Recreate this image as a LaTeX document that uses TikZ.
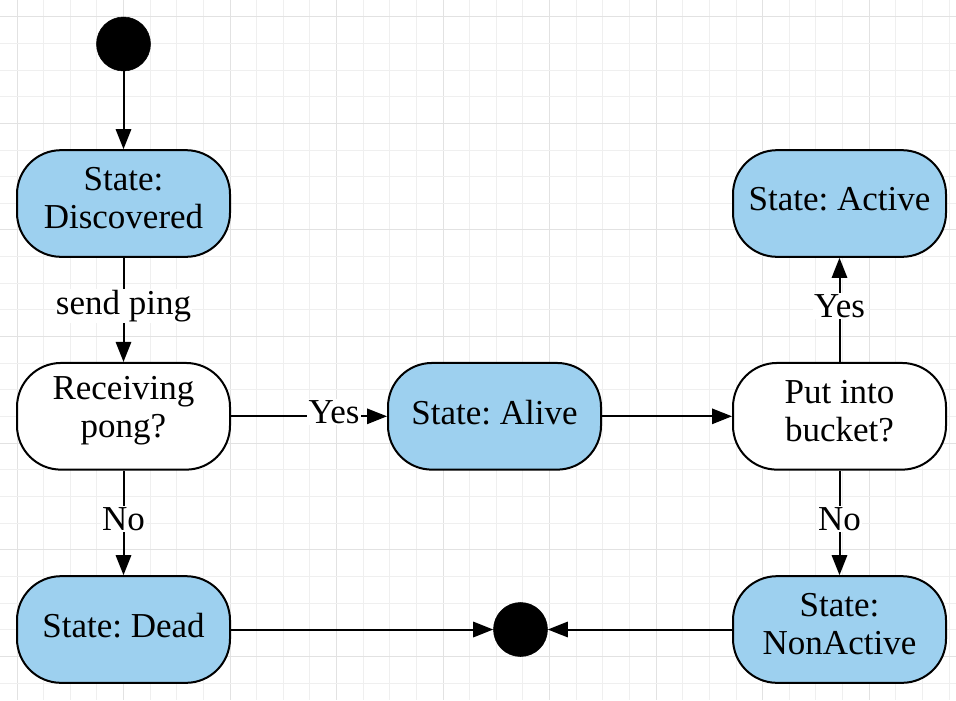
\documentclass[tikz,border=0pt]{standalone}
\usepackage{fontspec}
\setmainfont{Liberation Serif}
\usetikzlibrary{arrows.meta}
\definecolor{stblue}{HTML}{9DD0EF}
\definecolor{gridminor}{HTML}{EFEFEF}
\definecolor{gridmajor}{HTML}{E2E2E2}
\begin{document}
\frenchspacing
\begin{tikzpicture}[x=0.75pt,y=-0.75pt,
  every node/.style={font=\fontsize{26.25pt}{28.5pt}\selectfont},
  statebox/.style={draw=black, line width=1.5pt, rounded corners=33pt, minimum width=159.75pt, minimum height=80pt, inner sep=0pt, align=center, fill=stblue},
  decbox/.style={statebox, fill=white},
  txtone/.style={align=center, inner sep=0pt, yshift=3pt},
  txttwo/.style={align=center, inner sep=0pt, yshift=4pt},
  dot/.style={circle, fill=black, draw=black, minimum size=40.5pt, inner sep=0pt},
  arr/.style={line width=1.5pt, -{Triangle[length=15pt,width=11.5pt]}},
  lbl/.style={fill=white, inner sep=1pt, yshift=3pt}
]
\useasboundingbox (0,0) rectangle (956,700);
\fill[white] (0,0) rectangle (956,700);
% grid
\foreach \k in {0,...,35} {
  \pgfmathsetmacro\xx{17+26.63*\k}
  \pgfmathtruncatemacro\mm{mod(\k,4)}
  \ifnum\mm=0
    \draw[gridmajor, line width=0.75pt] (\xx,0) -- (\xx,700);
  \else
    \draw[gridminor, line width=0.75pt] (\xx,0) -- (\xx,700);
  \fi
}
\foreach \k in {0,...,25} {
  \pgfmathsetmacro\yy{16.7+26.66*\k}
  \pgfmathtruncatemacro\mm{mod(\k,4)}
  \ifnum\mm=0
    \draw[gridmajor, line width=0.75pt] (0,\yy) -- (956,\yy);
  \else
    \draw[gridminor, line width=0.75pt] (0,\yy) -- (956,\yy);
  \fi
}
% nodes
\node[dot] (start) at (123.5,44) {};
\node[statebox, label={[txttwo]center:State:\\Discovered}] (disc) at (123.5,203.5) {};
\node[decbox, label={[txttwo]center:Receiving\\pong?}] (recv) at (123.5,416.3) {};
\node[statebox, label={[txtone]center:State: Alive}] (alive) at (494.5,416.3) {};
\node[decbox, label={[txttwo]center:Put into\\bucket?}] (put) at (839.5,416.3) {};
\node[statebox, label={[txtone]center:State: Active}] (active) at (839.5,203.5) {};
\node[statebox, label={[txtone]center:State: Dead}] (dead) at (123.5,629.5) {};
\node[statebox, label={[txttwo]center:State:\\NonActive}] (nonact) at (839.5,629.5) {};
\node[dot] (end) at (520.5,629.5) {};
% edges
\draw[arr] (start) -- (disc);
\draw[arr] (disc) -- node[lbl]{send ping} (recv);
\draw[arr] (recv) -- node[lbl,pos=0.66]{Yes} (alive);
\draw[arr] (alive) -- (put);
\draw[arr] (put) -- node[lbl]{Yes} (active);
\draw[arr] (put) -- node[lbl]{No} (nonact);
\draw[arr] (recv) -- node[lbl]{No} (dead);
\draw[arr] (dead) -- (end);
\draw[arr] (nonact) -- (end);
\end{tikzpicture}
\end{document}
